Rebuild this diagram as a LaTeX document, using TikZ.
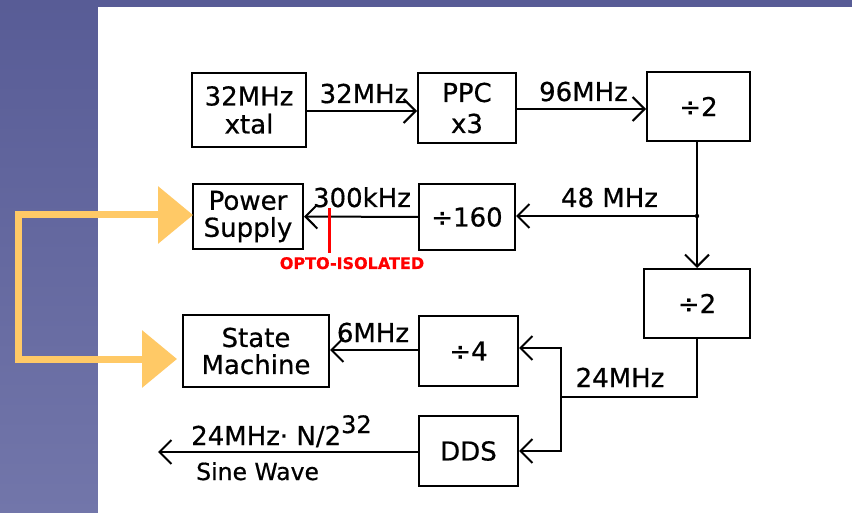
\documentclass[tikz,border=0pt]{standalone}
\usepackage{fontspec}
\setmainfont{DejaVu Sans}[FakeBold=0.6]
\usetikzlibrary{arrows.meta}
\definecolor{bandtop}{HTML}{585C96}
\definecolor{bandlow}{HTML}{7276AA}
\definecolor{gold}{HTML}{FFC966}
\definecolor{optored}{HTML}{FF0000}
\begin{document}
\begin{tikzpicture}[x=1pt,y=-1pt,
  box/.style={draw, line width=2pt, inner sep=0pt, align=center, font=\fontsize{26}{27}\selectfont},
  lbl/.style={font=\fontsize{26}{27}\selectfont, inner sep=0pt},
  conn/.style={line width=2pt, -{Straight Barb[length=12pt,width=24pt]}},
  wire/.style={line width=2pt},
  bigarrow/.style={line width=7pt, gold, line join=miter, {Triangle[length=35pt,width=56pt]}-{Triangle[length=35pt,width=56pt]}}
]
\useasboundingbox (0,0) rectangle (852,513);
% background
\shade[top color=bandtop, bottom color=bandlow] (0,0) rectangle (852,513);
\fill[bandtop] (0,0) rectangle (852,7);
\fill[white] (98,7) rectangle (852,513);

% boxes
\node[box, minimum width=114pt, minimum height=74pt] (xtal) at (249,110) {32MHz\\[1pt]xtal};
\node[box, minimum width=98pt, minimum height=70pt] (ppc) at (467,108) {PPC\\[4pt]x3};
\node[box, minimum width=103pt, minimum height=69pt] (div2a) at (698.5,106.5) {÷2};
\node[box, minimum width=110pt, minimum height=65pt] (ps) at (248,216.5) {Power\\Supply};
\node[box, minimum width=96pt, minimum height=66pt] (div160) at (467,217) {÷160};
\node[box, minimum width=106pt, minimum height=69pt] (div2b) at (697,303.5) {÷2};
\node[box, minimum width=146pt, minimum height=72pt] (sm) at (256,351) {State\\Machine};
\node[box, minimum width=99pt, minimum height=70pt] (div4) at (468.5,351) {÷4};
\node[box, minimum width=99pt, minimum height=70pt] (dds) at (468.5,451) {DDS};

% coordinates
\coordinate (j48) at (697,216);
\coordinate (c24) at (561,397);
\coordinate (t4) at (561,348);
\coordinate (t5) at (561,451);
\coordinate (out) at (158,452);

% connectors
\draw[conn] (xtal.east |- 0,111) -- (ppc.west |- 0,111);
\draw[conn] (ppc.east |- 0,109) -- (div2a.west |- 0,109);
\draw[conn] (div2a.south -| 697,0) -- (div2b.north -| 697,0);
\fill (j48) circle (2.2pt);
\draw[conn] (j48) -- (div160.east |- j48);
\draw[conn] (div160.west) -- (ps.east);
\draw[wire] (div2b.south -| 697,0) |- (c24);
\draw[conn] (c24) -- (t4) -- (div4.east |- t4);
\draw[conn] (c24) -- (t5) -- (dds.east |- t5);
\draw[conn] (div4.west |- 0,350) -- (sm.east |- 0,350);
\draw[conn] (dds.west |- out) -- (out);

% opto isolation mark
\draw[optored, line width=3pt] (329,208) coordinate (r1) -- (329,253) coordinate (r2);

% labels
\node[lbl, anchor=base] (l32) at (364,103) {32MHz};
\node[lbl, anchor=base] (l96) at (583.5,101) {96MHz};
\node[lbl, anchor=base] (l48) at (609.5,207) {48 MHz};
\node[lbl, anchor=base] (l300) at (362,207) {300kHz};
\node[lbl, anchor=base, text=optored, font=\bfseries\fontsize{16}{16}\selectfont] (lopto) at (352,269) {OPTO-ISOLATED};
\node[lbl, anchor=base] (l6) at (373,342) {6MHz};
\node[lbl, anchor=base] (l24) at (620,387) {24MHz};
\node[lbl, anchor=base west] (lout) at (191,445) {24MHz· N/2\raisebox{12pt}{\fontsize{24}{24}\selectfont 32}};
\node[lbl, anchor=base west, font=\fontsize{23.5}{24}\selectfont] (lsine) at (196,480) {Sine Wave};

% yellow arrows
\coordinate (ya) at (193,215);
\coordinate (yb) at (18,215);
\coordinate (yc) at (18,359);
\coordinate (yd) at (177,359);
\draw[bigarrow] (ya) -- (yb) -- (yc) -- (yd);
\end{tikzpicture}
\end{document}
